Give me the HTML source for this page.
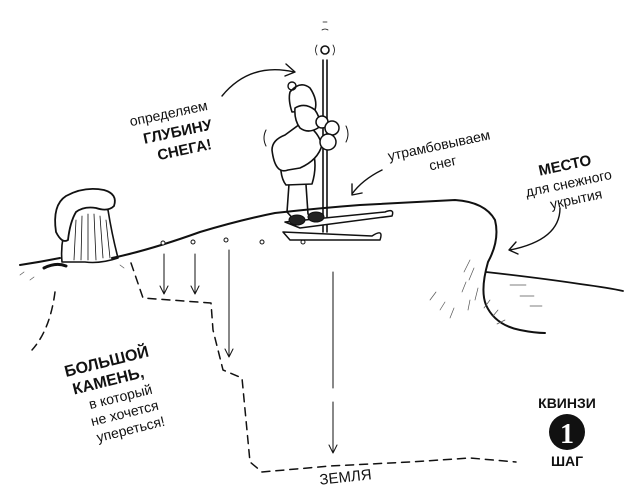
<!DOCTYPE html>
<html><head><meta charset="utf-8"><style>
html,body{margin:0;padding:0;background:#fff;width:639px;height:500px;overflow:hidden}
svg{display:block}
text{font-family:"Liberation Sans","DejaVu Sans",sans-serif;fill:#111}
</style></head><body>
<svg width="639" height="500" viewBox="0 0 639 500" xmlns="http://www.w3.org/2000/svg">
<g fill="none" stroke="#111" stroke-linecap="round" stroke-linejoin="round">
<path d="M20 265 Q40 262 60 258 M112 258 Q150 250 200 232 Q240 220 275 213 Q320 208 360 205 Q420 202 455 200 Q485 202 495 220 Q500 240 488 262 Q480 290 486 305 Q495 325 520 330 Q535 333 545 333" stroke-width="2"/>
<path d="M486 272 Q540 278 580 284 Q610 288 623 291" stroke-width="1.8"/>
<g stroke-width="0.7" stroke="#555">
<path d="M470 260 l-6 12 M474 268 l-5 12 M466 282 l-4 10 M478 288 l-3 12 M470 300 l-2 10 M490 300 l-6 8 M498 310 l-5 6 M505 320 l-8 4 M430 300 l6 -8 M440 310 l5 -8 M450 318 l4 -10 M520 296 h14 M530 306 h12 M510 285 h16 M20 275 l4 -3 M30 280 l4 -3 M120 265 l4 3"/>
</g>
<path d="M62 262 Q60 240 68 222 L72 208 Q90 200 108 210 Q112 235 118 258 Q100 264 85 262 Z" stroke-width="1.6"/>
<g stroke-width="0.8"><path d="M76 220 l-2 40 M82 216 l-1 44 M88 214 l0 46 M94 214 l2 46 M100 216 l3 42 M106 220 l4 38"/></g>
<path d="M56 232 Q52 205 66 196 Q84 186 104 190 Q118 194 114 206 Q108 212 96 208 Q84 206 76 212 Q70 222 68 240 Q62 244 56 232 Z" fill="#fff" stroke-width="1.8"/>
<path d="M44 268 Q56 262 66 266" stroke-width="3"/>
<g fill="#fff" stroke-width="1"><circle cx="163" cy="243" r="2"/><circle cx="193" cy="242" r="2"/><circle cx="226" cy="240" r="2"/><circle cx="262" cy="242" r="2"/><circle cx="303" cy="242" r="2"/></g>
<g stroke-width="1">
<path d="M164 254 V293 M160 286 l4 8 l4 -8"/>
<path d="M195 254 V293 M191 286 l4 8 l4 -8"/>
<path d="M229 250 V356 M225 349 l4 8 l4 -8"/>
<path d="M333 272 V388 M333 402 V452 M329 445 l4 8 l4 -8"/>
</g>
<path d="M131 263 L143 298 L211 303 L213 330 L223 370 L242 378 L250 462 L262 472 L330 466 L410 462 L470 458 L516 462" stroke-width="1.5" stroke-dasharray="8 6"/>
<path d="M55 292 Q50 330 32 350" stroke-width="1.5" stroke-dasharray="8 6"/>
<path d="M323 60 V232 M327 60 V232" stroke-width="1.6"/>
<circle cx="325" cy="50" r="4" stroke-width="1.6"/>
<path d="M317 45 q-3 5 0 10 M333 45 q3 5 0 10 M322 30 q3 -2 6 0 M323 22 l4 0" stroke-width="0.8"/>
<path d="M285 222 L385 212 Q395 208 392 216 L300 228 Z" stroke-width="1.5" fill="#fff"/>
<path d="M283 232 L372 236 Q384 228 380 240 L290 240 Z" stroke-width="1.5" fill="#fff"/>
<path d="M290 170 L287 212 L296 222 M305 170 L308 214 L316 220" stroke-width="1.6"/>
<path d="M282 150 Q278 175 286 185 L312 184 Q318 165 312 148" stroke-width="1.6" fill="#fff"/>
<path d="M285 135 Q272 140 272 150 Q275 175 288 170 L300 168 Q318 160 322 145 Q316 126 300 124 Z" stroke-width="1.6" fill="#fff"/>
<path d="M290 92 Q300 80 310 88 Q318 100 315 110 L292 112 Q288 100 290 92 Z" stroke-width="1.6" fill="#fff"/>
<circle cx="292" cy="86" r="4" stroke-width="1.4"/>
<path d="M295 108 Q305 102 315 110 Q322 120 318 128 Q308 134 300 128 Q294 120 295 108 Z" stroke-width="1.6" fill="#fff"/>
<circle cx="322" cy="122" r="6" fill="#fff" stroke-width="1.5"/>
<circle cx="332" cy="128" r="7" fill="#fff" stroke-width="1.5"/>
<circle cx="328" cy="142" r="8" fill="#fff" stroke-width="1.5"/>
<ellipse cx="297" cy="220" rx="8" ry="5" fill="#222" stroke-width="1"/>
<ellipse cx="316" cy="217" rx="8" ry="5" fill="#222" stroke-width="1"/>
<path d="M266 130 q-4 8 0 16 M346 126 q4 8 0 16" stroke-width="1"/>
<path d="M222 96 Q250 62 294 72 M286 64 l9 8 l-10 4" stroke-width="1.4"/>
<path d="M382 170 Q362 180 352 194 M352 184 l0 11 l10 -2" stroke-width="1.4"/>
<path d="M560 208 Q560 240 510 250 M516 242 l-7 8 l9 4" stroke-width="1.4"/>
</g>
<circle cx="567" cy="432" r="18" fill="#111"/>
<text x="567" y="443" text-anchor="middle" font-size="28" font-weight="bold" style="fill:#fff;font-family:'Liberation Serif',serif">1</text>
<text x="567" y="408" text-anchor="middle" font-size="14" font-weight="bold">КВИНЗИ</text>
<text x="567" y="466" text-anchor="middle" font-size="14" font-weight="bold">ШАГ</text>
<g transform="rotate(-12 170 120)">
<text x="170" y="118" text-anchor="middle" font-size="14">определяем</text>
<text x="175" y="138" text-anchor="middle" font-size="15" font-weight="bold">ГЛУБИНУ</text>
<text x="178" y="157" text-anchor="middle" font-size="15" font-weight="bold">СНЕГА!</text>
</g>
<g transform="rotate(-12 440 150)">
<text x="440" y="150" text-anchor="middle" font-size="14">утрамбовываем</text>
<text x="440" y="168" text-anchor="middle" font-size="14">снег</text>
</g>
<g transform="rotate(-12 568 180)">
<text x="568" y="170" text-anchor="middle" font-size="15" font-weight="bold">МЕСТО</text>
<text x="568" y="188" text-anchor="middle" font-size="14">для снежного</text>
<text x="572" y="205" text-anchor="middle" font-size="14">укрытия</text>
</g>
<g transform="rotate(-14 118 395)">
<text x="115" y="365" text-anchor="middle" font-size="16" font-weight="bold">БОЛЬШОЙ</text>
<text x="112" y="384" text-anchor="middle" font-size="16" font-weight="bold">КАМЕНЬ,</text>
<text x="120" y="402" text-anchor="middle" font-size="14">в который</text>
<text x="120" y="419" text-anchor="middle" font-size="14">не хочется</text>
<text x="122" y="436" text-anchor="middle" font-size="14">упереться!</text>
</g>
<text x="346" y="482" text-anchor="middle" font-size="15" transform="rotate(-6 346 482)">ЗЕМЛЯ</text>
</svg>
</body></html>
